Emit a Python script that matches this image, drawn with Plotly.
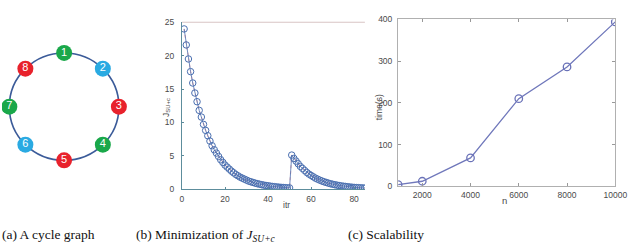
import math
import plotly.graph_objects as go

# ---------------- data ----------------
node_labels = ["1", "2", "3", "4", "5", "6", "7", "8"]
node_colors = ["#1aa84a", "#2aaae2", "#e8222c", "#1aa84a", "#e8222c", "#2aaae2", "#1aa84a", "#e8222c"]

itr = list(range(1, 86))
j_values = [
    24.0, 21.6, 19.5, 17.6, 15.9, 14.4, 13.1, 11.8, 10.8, 9.7,
    8.8, 8.0, 7.2, 6.5, 5.9, 5.4, 4.9, 4.4, 4.0, 3.6,
    3.3, 3.0, 2.7, 2.45, 2.2, 2.0, 1.8, 1.65, 1.5, 1.35,
    1.2, 1.1, 1.0, 0.9, 0.82, 0.74, 0.67, 0.6, 0.55, 0.5,
    0.45, 0.4, 0.37, 0.33, 0.3, 0.27, 0.25, 0.22, 0.2, 0.18,
    5.1, 4.6, 4.2, 3.8, 3.4, 3.1, 2.8, 2.5, 2.25, 2.05,
    1.85, 1.65, 1.5, 1.35, 1.22, 1.1, 1.0, 0.9, 0.81, 0.73,
    0.66, 0.6, 0.54, 0.48, 0.44, 0.4, 0.36, 0.32, 0.29, 0.26,
    0.24, 0.22, 0.2, 0.18, 0.16,
]

n_values = [1000, 2000, 4000, 6000, 8000, 10000]
time_values = [4, 12, 68, 210, 286, 394]

b_xticks = [0, 20, 40, 60, 80]
b_yticks = [0, 5, 10, 15, 20, 25]
c_xticks = [2000, 4000, 6000, 8000, 10000]
c_xticklabels = ["2000", "4000", "6000", "8000", "10000"]
c_yticks = [0, 100, 200, 300, 400]

W, H = 640, 244
fig = go.Figure()

# ---------------- (a) cycle graph ----------------
cx, cy, r = 63.5, 244 - 106, 56
nx, ny = [], []
for k in range(len(node_labels)):
    ang = math.pi / 2 - 2 * math.pi * k / len(node_labels)
    nx.append(cx + r * math.cos(ang))
    ny.append(cy + r * math.sin(ang))

fig.add_shape(type="circle", xref="x", yref="y", x0=cx - r, x1=cx + r, y0=cy - r, y1=cy + r,
              line=dict(color="#3b5b99", width=1.6), layer="below")
fig.add_trace(go.Scatter(x=nx, y=ny, mode="markers+text", text=node_labels,
                         textfont=dict(color="white", size=11, family="Liberation Sans"),
                         textposition="middle center",
                         marker=dict(size=16, color=node_colors, line=dict(width=0)),
                         xaxis="x", yaxis="y", showlegend=False, hoverinfo="skip"))

# ---------------- (b) minimization ----------------
fig.add_trace(go.Scatter(x=itr, y=j_values, mode="lines",
                         line=dict(color="rgba(235,130,130,0.6)", width=1.2, dash="dot"),
                         xaxis="x2", yaxis="y2", showlegend=False, hoverinfo="skip"))
fig.add_trace(go.Scatter(x=itr, y=j_values, mode="lines+markers",
                         line=dict(color="#4a6fb0", width=0.8),
                         marker=dict(symbol="circle-open", size=6.5, color="#4a6fb0", line=dict(width=1)),
                         xaxis="x2", yaxis="y2", showlegend=False))

# ---------------- (c) scalability ----------------
fig.add_trace(go.Scatter(x=n_values, y=time_values, mode="lines+markers",
                         line=dict(color="#7078bb", width=1.3),
                         marker=dict(symbol="circle-open", size=7.5, color="#6a72b8", line=dict(width=1.3)),
                         xaxis="x3", yaxis="y3", showlegend=False))

tickfont = dict(family="Liberation Sans", size=8.5, color="#4a4a4a")

def px_dom_x(a, b):
    return [a / W, b / W]

def px_dom_y(top, bottom):
    return [(H - bottom) / H, (H - top) / H]

fig.update_layout(
    width=W, height=H, margin=dict(l=0, r=0, t=0, b=0),
    paper_bgcolor="white", plot_bgcolor="white",
    xaxis=dict(domain=px_dom_x(0, 140), range=[0, 140], visible=False, fixedrange=True),
    yaxis=dict(domain=[0, 1], range=[0, 244], visible=False, fixedrange=True),
    xaxis2=dict(domain=px_dom_x(184, 371), range=[0, 85], tickvals=b_xticks, ticks="inside", ticklen=2,
                tickcolor="#5a8a9a", showgrid=False, zeroline=False, showline=True, linecolor="#5d8d9c",
                linewidth=1.2, mirror=False, tickfont=tickfont, anchor="y2", ticklabelstandoff=2),
    yaxis2=dict(domain=px_dom_y(18, 192), range=[0, 25], tickvals=b_yticks, ticks="inside", ticklen=2,
                tickcolor="#5a8a9a", showgrid=False, zeroline=False, showline=True, linecolor="#5d8d9c",
                linewidth=1.2, tickfont=tickfont, anchor="x2", ticklabelstandoff=5),
    xaxis3=dict(domain=px_dom_x(405, 627), range=[1000, 10000], tickvals=c_xticks, ticktext=c_xticklabels,
                ticks="inside", ticklen=3, tickcolor="#999999", showgrid=False, zeroline=False, showline=True,
                linecolor="#b0b0b0", linewidth=1.2, mirror="ticks", tickfont=tickfont, anchor="y3",
                ticklabeloverflow="allow"),
    yaxis3=dict(domain=px_dom_y(15, 189), range=[0, 400], tickvals=c_yticks, ticks="inside",
                ticklen=3, tickcolor="#999999", showgrid=False, zeroline=False, showline=True,
                linecolor="#b0b0b0", linewidth=1.2, mirror="ticks", tickfont=tickfont, anchor="x3",
                ticklabelstandoff=3),
)

# top border of panel (b)
fig.add_shape(type="line", xref="paper", yref="paper", x0=184 / W, x1=371 / W,
              y0=(H - 18) / H, y1=(H - 18) / H, line=dict(color="#d8c4c4", width=1.2))

label_font = dict(family="Liberation Sans", size=8.5, color="#4a4a4a")
annotations = [
    dict(text="J<sub>SU+c</sub>", x=168 / W, y=(H - 107) / H, textangle=-90, font=label_font,
         yanchor="middle"),
    dict(text="itr", x=291 / W, y=(H - 209) / H, font=label_font, yanchor="middle"),
    dict(text="time(s)", x=385 / W, y=(H - 107) / H, textangle=-90, font=label_font, yanchor="middle"),
    dict(text="n", x=514 / W, y=(H - 204) / H, font=dict(family="Liberation Sans", size=9.5, color="#4a4a4a"),
         yanchor="middle"),
]
cap_font = dict(family="Liberation Serif", size=13.5, color="#111111")
cap_y = (H - 229) / H
annotations += [
    dict(text="(a) A cycle graph", x=-2 / W, y=cap_y, xanchor="left", yanchor="top", font=cap_font),
    dict(text="(b) Minimization of <i>J<sub>SU+c</sub></i>", x=135 / W, y=cap_y, xanchor="left",
         yanchor="top", font=cap_font),
    dict(text="(c) Scalability", x=352 / W, y=cap_y, xanchor="left", yanchor="top", font=cap_font),
]
for a in annotations:
    a.setdefault("xanchor", "center")
    a.update(xref="paper", yref="paper", showarrow=False)
fig.update_layout(annotations=annotations)

fig.write_html("out.html", post_script="document.body.style.margin='0';",
               config={"displayModeBar": False})
